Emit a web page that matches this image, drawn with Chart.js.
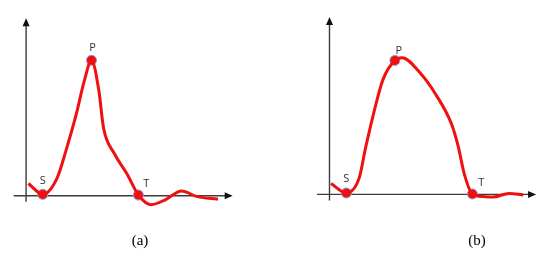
<!DOCTYPE html>
<html>
<head>
<meta charset="utf-8">
<script src="https://cdn.jsdelivr.net/npm/chart.js@4.4.1/dist/chart.umd.min.js"></script>
<style>
body{margin:0;background:#fff}
#wrap{position:relative;width:550px;height:256px;overflow:hidden}
canvas{position:absolute;top:0}
#chartA{left:0}
#chartB{left:275px}
.cap{position:absolute;top:232px;font:15px/17px "Liberation Serif","DejaVu Serif",serif;color:#000;transform:translateX(-50%)}
</style>
</head>
<body>

<div id="wrap">
<canvas id="chartA" width="275" height="256"></canvas>
<canvas id="chartB" width="275" height="256"></canvas>
<div class="cap" style="left:140px">(a)</div>
<div class="cap" style="left:477px">(b)</div>
</div>

<script>

// panel (a) curve, time units / relative amplitude
const curveAX=[0.12,0.87,1.62,2.12,2.62,3.03,3.42,3.8,4.05,4.62,5.28,5.87,6.53,7.28,8.12,8.95,10.03]
const curveAY=[0.09,0.01,0.13,0.35,0.60,0.84,1.00,0.78,0.50,0.31,0.16,0.005,-0.066,-0.03,0.035,-0.007,-0.026]

// panel (b) curve
const curveBX=[0.08,0.88,1.55,1.88,2.38,2.8,3.42,3.8,4.72,5.55,6.38,6.72,7.05,7.47,8.05,8.55,9.38,10.13]
const curveBY=[0.08,0.01,0.12,0.34,0.64,0.85,0.99,1.01,0.90,0.74,0.52,0.36,0.15,0.003,-0.016,-0.02,0.007,-0.004]

// marked points S, P, T
const markNames=["S","P","T"]
const markAX=[0.87,3.42,5.87]
const markAY=[0.01,1.00,0.005]
const markBX=[0.88,3.42,7.47]
const markBY=[0.01,0.99,0.003]

// axis extents (data units)
const axisXFrom=-0.65
const axisXTo=10.8
const axisYFrom=-0.045
const axisYTo=1.31

const RED="#f01010"

function pts(xs,ys){
return xs.map((x,i)=>({x:x,y:ys[i]}))
}

const axesPlugin={
id:"axes",
beforeDatasetsDraw(chart){

const ctx=chart.ctx
const x=chart.scales.x
const y=chart.scales.y

const x0=x.getPixelForValue(0)
const y0=y.getPixelForValue(0)
const xl=x.getPixelForValue(axisXFrom)
const xr=x.getPixelForValue(axisXTo)
const yb=y.getPixelForValue(axisYFrom)
const yt=y.getPixelForValue(axisYTo)

ctx.save()
ctx.strokeStyle="#3c3c3c"
ctx.fillStyle="#111"
ctx.lineWidth=1.4

ctx.beginPath()
ctx.moveTo(xl,y0)
ctx.lineTo(xr-6,y0)
ctx.moveTo(x0,yb)
ctx.lineTo(x0,yt+6)
ctx.stroke()

ctx.beginPath()
ctx.moveTo(xr,y0)
ctx.lineTo(xr-8,y0-3.5)
ctx.lineTo(xr-8,y0+3.5)
ctx.closePath()
ctx.fill()

ctx.beginPath()
ctx.moveTo(x0,yt)
ctx.lineTo(x0-3.5,yt+8)
ctx.lineTo(x0+3.5,yt+8)
ctx.closePath()
ctx.fill()

ctx.restore()

}
}

const labelPlugin={
id:"pointLabels",
afterDatasetsDraw(chart,args,opts){

const ctx=chart.ctx
const meta=chart.getDatasetMeta(1)

ctx.save()
ctx.font="11px 'Open Sans', sans-serif"
ctx.fillStyle="#333"
ctx.textAlign="center"
ctx.textBaseline="middle"

meta.data.forEach((el,i)=>{
const off=opts.offsets[i]
ctx.fillText(markNames[i],el.x+off[0],el.y+off[1])
})

ctx.restore()

}
}

function makePanel(id,cx,cy,mx,my,range,offsets){

return new Chart(document.getElementById(id),{
type:"scatter",
data:{
datasets:[{
data:pts(cx,cy),
showLine:true,
borderColor:RED,
borderWidth:3,
pointRadius:0,
cubicInterpolationMode:"monotone"
},{
data:pts(mx,my),
showLine:false,
pointRadius:5,
backgroundColor:RED,
borderColor:"#8d9bd2",
borderWidth:1
}]
},
options:{
responsive:false,
animation:false,
events:[],
layout:{padding:0},
scales:{
x:{type:"linear",display:false,min:range[0],max:range[1]},
y:{type:"linear",display:false,min:range[2],max:range[3]}
},
plugins:{
legend:{display:false},
tooltip:{enabled:false},
pointLabels:{offsets:offsets}
}
},
plugins:[axesPlugin,labelPlugin]
})

}

makePanel("chartA",curveAX,curveAY,markAX,markAY,
[-1.05,12.7,-0.401,1.401],
[[0,-13],[1,-12],[8,-11]])

makePanel("chartB",curveBX,curveBY,markBX,markBY,
[-2.535,11.215,-0.411,1.392],
[[0,-14],[4,-10],[9,-11]])

</script>
</body>
</html>
